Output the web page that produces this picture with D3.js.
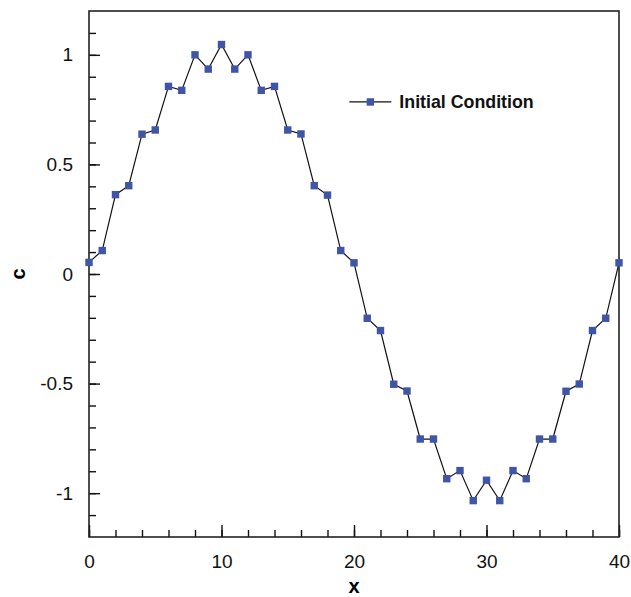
<!DOCTYPE html>
<html>
<head>
<meta charset="utf-8">
<script src="https://cdn.jsdelivr.net/npm/d3@7"></script>
<style>
    body { margin: 0; background: #fff; }
    text { font-family: "Liberation Sans", Arial, Helvetica, sans-serif; }
</style>
</head>
<body>
<svg id="chart" width="631" height="597"></svg>
<script>
// initial condition
const xValues = d3.range(0, 41);
const cValues = [
    0.053, 0.107, 0.362, 0.403, 0.638, 0.657, 0.856, 0.838, 1.0, 0.935,
    1.047, 0.935, 1.0, 0.838, 0.856, 0.657, 0.639, 0.403, 0.36, 0.107,
    0.051, -0.202, -0.258, -0.503, -0.534, -0.753, -0.753, -0.934, -0.897, -1.034,
    -0.941, -1.034, -0.897, -0.934, -0.753, -0.753, -0.535, -0.502, -0.258, -0.202,
    0.051
];
const xMajorTicks = [0, 10, 20, 30, 40];
const yMajorTicks = [-1, -0.5, 0, 0.5, 1];
const seriesName = 'Initial Condition';

const margin = {top: 11, right: 12, bottom: 60, left: 89};
const width = 631 - margin.left - margin.right;
const height = 597 - margin.top - margin.bottom;

const markerColor = '#3f55a6';

const svg = d3.select('#chart');
const g = svg.append('g')
    .attr('transform', `translate(${margin.left}, ${margin.top})`);

const x = d3.scaleLinear().domain([0, 40]).range([0, width]);
const y = d3.scaleLinear().domain([-1.2, 1.2]).range([height, 0]);

const points = xValues.map((xv, i) => ({x: xv, c: cValues[i]}));

//--------------------------------------------------AXES
// minor ticks first, no labels
g.append('g')
    .attr('class', 'x minor')
    .attr('transform', `translate(0, ${height})`)
    .call(d3.axisBottom(x).tickValues(d3.range(0, 41, 2)).tickSize(-7).tickFormat(''));

g.append('g')
    .attr('class', 'y minor')
    .call(d3.axisLeft(y).tickValues(d3.range(-11, 12).map(v => v / 10)).tickSize(-7).tickFormat(''));

g.append('g')
    .attr('class', 'x major')
    .attr('transform', `translate(0, ${height})`)
    .call(d3.axisBottom(x).tickValues(xMajorTicks).tickSize(-12).tickPadding(18).tickFormat(d3.format('d')));

g.append('g')
    .attr('class', 'y major')
    .call(d3.axisLeft(y).tickValues(yMajorTicks).tickSize(-11).tickPadding(16).tickFormat(d => d));

g.selectAll('.domain').remove();
g.selectAll('.tick line')
    .attr('stroke', '#111')
    .attr('stroke-width', 1.4);
g.selectAll('.tick text')
    .style('font-size', '19px')
    .attr('fill', '#111');

// frame
g.append('rect')
    .attr('width', width)
    .attr('height', height)
    .attr('fill', 'none')
    .attr('stroke', '#222')
    .attr('stroke-width', 1.6);

//--------------------------------------------------SERIES
const line = d3.line()
    .x(d => x(d.x))
    .y(d => y(d.c));

g.append('path')
    .datum(points)
    .attr('d', line)
    .attr('fill', 'none')
    .attr('stroke', '#111')
    .attr('stroke-width', 1.2);

g.append('g')
    .selectAll('rect')
    .data(points)
    .enter().append('rect')
    .attr('x', d => x(d.x) - 3.7)
    .attr('y', d => y(d.c) - 3.7)
    .attr('width', 7.4)
    .attr('height', 7.4)
    .attr('fill', markerColor);

//--------------------------------------------------LEGEND
const legend = g.append('g')
    .attr('transform', `translate(${x(19.65)}, ${y(0.785)})`);

legend.append('line')
    .attr('x1', 0)
    .attr('x2', 42)
    .attr('stroke', '#111')
    .attr('stroke-width', 1.2);

legend.append('rect')
    .attr('x', 21 - 3.7)
    .attr('y', -3.7)
    .attr('width', 7.4)
    .attr('height', 7.4)
    .attr('fill', markerColor);

legend.append('text')
    .text(seriesName)
    .attr('x', 50)
    .attr('y', 6.5)
    .style('font-size', '17.8px')
    .style('font-weight', 'bold')
    .attr('fill', '#111');

//--------------------------------------------------AXIS TITLES
svg.append('text')
    .text('x')
    .attr('x', margin.left + width / 2)
    .attr('y', 593)
    .style('text-anchor', 'middle')
    .style('font-size', '20px')
    .style('font-weight', 'bold');

svg.append('text')
    .text('c')
    .attr('transform', `translate(25, ${margin.top + y(0)}) rotate(-90)`)
    .style('text-anchor', 'middle')
    .style('font-size', '20px')
    .style('font-weight', 'bold');
</script>
</body>
</html>
